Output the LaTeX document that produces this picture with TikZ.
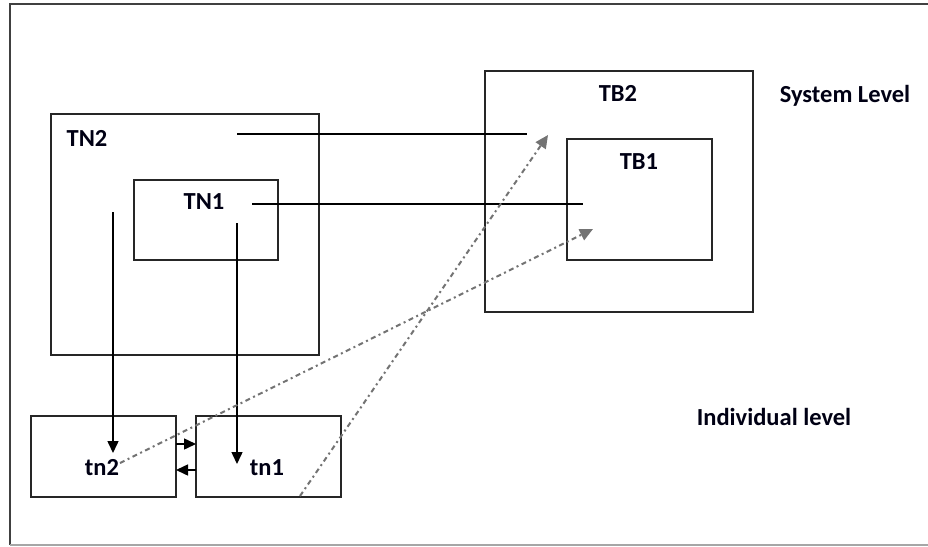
\documentclass[tikz,border=0pt]{standalone}
\usepackage{fontspec}
\setmainfont{Carlito}
\usetikzlibrary{arrows.meta}
\begin{document}
\begin{tikzpicture}[x=1pt,y=-1pt,
  box/.style={draw=black!85,line width=1.7pt,inner sep=0pt,outer sep=0pt},
  lbl/.style={anchor=base,inner sep=0pt,font=\fontsize{24.5}{28}\selectfont\bfseries,text=black!92!blue},
  conn/.style={line width=1.5pt,draw=black},
  arr/.style={conn,-{Triangle[length=12pt,width=11pt]}},
  dd/.style={line width=2pt,draw=black!55,dash pattern=on 5pt off 3.5pt on 2pt off 3.5pt,-{Triangle[length=13pt,width=12pt]}},
  frame/.style={line width=1.8pt,draw=black!75}]
\useasboundingbox (0,0) rectangle (928,546);
\fill[white] (0,0) rectangle (928,546);
% frame
\coordinate (f1) at (10,545);
\coordinate (f2) at (10,4);
\coordinate (f3) at (930,4);
\coordinate (f4) at (930,545);
\draw[frame] (f1) -- (f2) -- (f3);
\draw[line width=1.5pt,draw=black!35] (f1) -- (f4);
% boxes
\node[box,minimum width=268pt,minimum height=241pt] (TN2box) at (185,234.5) {};
\node[box,minimum width=144pt,minimum height=80pt] (TN1box) at (206,220) {};
\node[box,minimum width=268pt,minimum height=241pt] (TB2box) at (619,191.5) {};
\node[box,minimum width=145pt,minimum height=121pt] (TB1box) at (639.5,199.5) {};
\node[box,minimum width=145pt,minimum height=81pt] (tn2box) at (103.5,456.5) {};
\node[box,minimum width=145pt,minimum height=81pt] (tn1box) at (268.5,456.5) {};
% labels
\node[lbl] (TN2) at (87,146) {TN2};
\node[lbl] (TN1) at (204,209) {TN1};
\node[lbl] (TB2) at (618,101) {TB2};
\node[lbl] (TB1) at (639,169) {TB1};
\node[lbl] (tn2) at (102,475) {tn2};
\node[lbl] (tn1) at (267,475) {tn1};
\node[lbl] (sys) at (845,102) {System Level};
\node[lbl] (ind) at (774,425) {Individual level};
% connector endpoints
\coordinate (a1) at (237,134);
\coordinate (a2) at (527,134);
\coordinate (b1) at (252,204);
\coordinate (b2) at (583,204);
\coordinate (c1) at (113,212);
\coordinate (c2) at (113,453);
\coordinate (d1) at (237,223);
\coordinate (d2) at (237,464);
\coordinate (e1) at (300,496);
\coordinate (e2) at (548,135);
\coordinate (g1) at (120,463);
\coordinate (g2) at (593,229);
% connectors
\draw[conn] (a1) -- (a2);
\draw[conn] (b1) -- (b2);
\draw[arr] (c1) -- (c2);
\draw[arr] (d1) -- (d2);
\draw[arr] (tn2box.east |- 0,444) -- (tn1box.west |- 0,444);
\draw[arr] (tn1box.west |- 0,470) -- (tn2box.east |- 0,470);
\draw[dd] (e1) -- (e2);
\draw[dd] (g1) -- (g2);
\end{tikzpicture}
\end{document}
